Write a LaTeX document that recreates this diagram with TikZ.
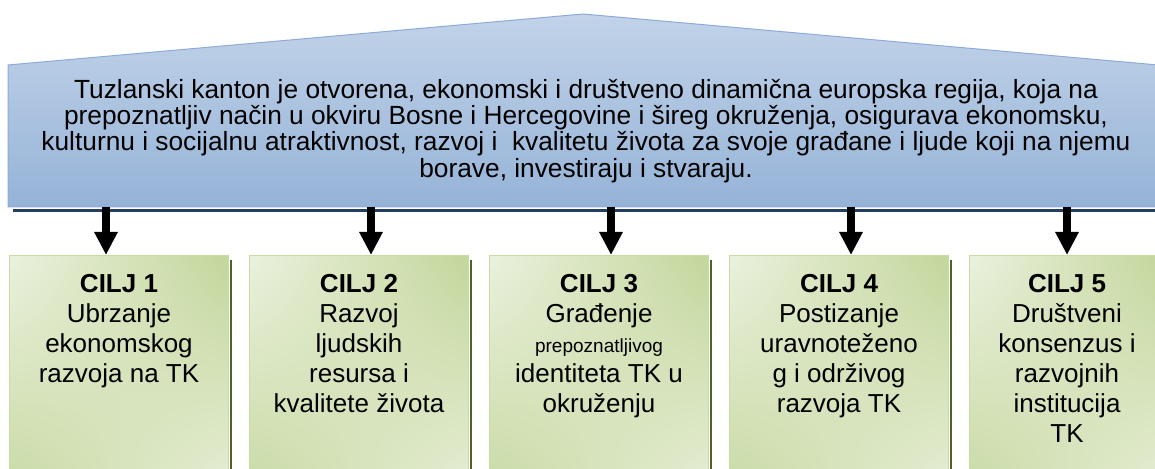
\documentclass[tikz,border=0pt]{standalone}
\usepackage{fontspec}
\setmainfont{Liberation Sans}
\usetikzlibrary{arrows.meta,shadings}

\definecolor{plavaSvijetla}{HTML}{DCE6F2}
\definecolor{plavaSrednja}{HTML}{C2D3E9}
\definecolor{plavaTamna}{HTML}{95B3D7}
\definecolor{plavaRub}{HTML}{8EAADB}
\definecolor{plavaSjena}{HTML}{243F60}
\definecolor{zelenaSvijetla}{HTML}{EBF1DE}
\definecolor{zelenaTamna}{HTML}{C3D69B}
\definecolor{zelenaRub}{HTML}{C9DBA5}
\definecolor{zelenaSjena}{HTML}{4F6228}

\tikzset{
  okvir/.style={anchor=north west, minimum height=270pt, inner sep=0pt,
    upper left=zelenaSvijetla, upper right=zelenaTamna,
    lower left=zelenaTamna, lower right=zelenaSvijetla,
    draw=zelenaRub, line width=1pt},
  ciljtekst/.style={anchor=north, align=center, inner sep=0pt,
    font=\fontsize{26}{30}\selectfont},
  strelica/.style={line width=8pt, -{Triangle[width=22pt,length=23pt]}},
}

\begin{document}
\begin{tikzpicture}[x=1pt, y=1pt]
    \useasboundingbox (0,0) rectangle (1155,468);
    % vizija
    \draw[plavaSjena, line width=3.5pt] (13,257.5) -- (1160,257.5);
    \shade[top color=plavaSrednja, middle color=plavaSvijetla, bottom color=plavaTamna,
      draw=plavaRub, line width=1pt] (8,403) -- (583,454) -- (1158,403) -- (1158,261) -- (8,261) -- cycle;
    \node[align=center, font=\fontsize{26.3}{26.3}\selectfont] (vizija) at (586,337)
      {Tuzlanski kanton je otvorena, ekonomski i društveno dinamična europska regija, koja na\\
       prepoznatljiv način u okviru Bosne i Hercegovine i šireg okruženja, osigurava ekonomsku,\\
       kulturnu i socijalnu atraktivnost, razvoj i \ kvalitetu života za svoje građane i ljude koji na njemu\\
       borave, investiraju i stvaraju.};

    % ciljevi
    \node[okvir, minimum width=219pt] (okvir1) at (9,213) {};
    \node[okvir, minimum width=219pt] (okvir2) at (249,213) {};
    \node[okvir, minimum width=219pt] (okvir3) at (489,213) {};
    \node[okvir, minimum width=219pt] (okvir4) at (729,213) {};
    \node[okvir, minimum width=195pt] (okvir5) at (969,213) {};
    \foreach \i in {1,...,5}
      \draw[zelenaSjena, line width=2pt] ([xshift=1.5pt,yshift=-5pt]okvir\i.north east) -- ([xshift=1.5pt]okvir\i.south east);

    \node[ciljtekst] (cilj1) at (okvir1.north |- 0,194) {\textbf{CILJ 1}\\Ubrzanje\\ekonomskog\\razvoja na TK};
    \node[ciljtekst] (cilj2) at (okvir2.north |- 0,194) {\textbf{CILJ 2}\\Razvoj\\ljudskih\\resursa i\\kvalitete života};
    \node[ciljtekst] (cilj3) at (okvir3.north |- 0,194) {\textbf{CILJ 3}\\Građenje\\{\fontsize{19}{30}\selectfont prepoznatljivog}\\identiteta TK u\\okruženju};
    \node[ciljtekst] (cilj4) at (okvir4.north |- 0,194) {\textbf{CILJ 4}\\Postizanje\\uravnoteženo\\g i održivog\\razvoja TK};
    \node[ciljtekst] (cilj5) at (okvir5.north |- 0,194) {\textbf{CILJ 5}\\Društveni\\konsenzus i\\razvojnih\\institucija\\TK};

    % strelice
    \coordinate (s1) at (106,261);
    \coordinate (s2) at (371,261);
    \coordinate (s3) at (611,261);
    \coordinate (s4) at (851,261);
    \coordinate (s5) at (1067,261);
    \foreach \i in {1,...,5}
      \draw[strelica] (s\i) -- (s\i |- okvir\i.north);
\end{tikzpicture}
\end{document}
